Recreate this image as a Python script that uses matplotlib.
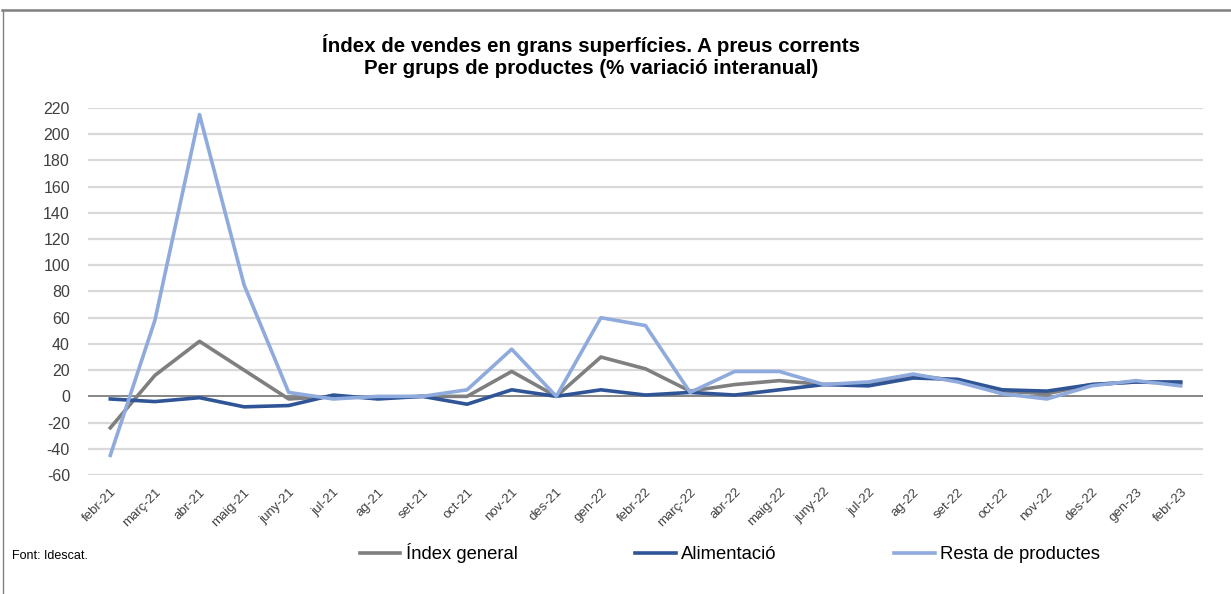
import matplotlib
matplotlib.use("Agg")
import matplotlib.pyplot as plt
from matplotlib.lines import Line2D

plt.rcParams['font.family'] = ['Liberation Sans', 'DejaVu Sans']

months = ["febr-21", "març-21", "abr-21", "maig-21", "juny-21", "jul-21", "ag-21",
          "set-21", "oct-21", "nov-21", "des-21", "gen-22", "febr-22", "març-22",
          "abr-22", "maig-22", "juny-22", "jul-22", "ag-22", "set-22", "oct-22",
          "nov-22", "des-22", "gen-23", "febr-23"]

index_general = [-24, 16, 42, 20, -2, 0, -1, 0, 0, 19, 0, 30, 21, 4,
                 9, 12, 9, 10, 16, 12, 4, 2, 9, 11, 10]
alimentacio = [-2, -4, -1, -8, -7, 1, -2, 0, -6, 5, 0, 5, 1, 3,
               1, 5, 9, 8, 14, 13, 5, 4, 9, 11, 11]
resta = [-45, 58, 215, 85, 3, -2, 0, 0, 5, 36, 0, 60, 54, 3,
         19, 19, 9, 11, 17, 11, 2, -2, 8, 12, 8]

yticks = list(range(-60, 221, 20))

fig = plt.figure(figsize=(12.31, 5.94), dpi=100)
ax = fig.add_axes([88 / 1231, 1 - 475 / 594, (1203 - 88) / 1231, (475 - 108) / 594])

x = list(range(len(months)))
l1, = ax.plot(x, index_general, color="#7f7f7f", lw=2.6, label="Índex general", zorder=3)
l2, = ax.plot(x, alimentacio, color="#2f5597", lw=2.6, label="Alimentació", zorder=4)
l3, = ax.plot(x, resta, color="#8faadc", lw=2.6, label="Resta de productes", zorder=5)

ax.set_xlim(-0.5, len(months) - 0.5)
ax.set_ylim(-60, 220)
ax.set_yticks(yticks)
ax.set_yticklabels([str(v) for v in yticks], fontsize=11.5, color="#404040")
ax.set_xticks(x)
ax.set_xticklabels(months, rotation=45, ha="right", rotation_mode="anchor",
                   fontsize=9.5, color="#404040")
ax.tick_params(axis="x", length=0, pad=8)
ax.tick_params(axis="y", length=0, pad=13)

for v in yticks:
    if v != 0:
        ax.axhline(v, color="#d9d9d9", lw=1.6, zorder=1)
ax.axhline(0, color="#868686", lw=1.4, zorder=2)

for s in ax.spines.values():
    s.set_visible(False)

fig.text(591 / 1231, 1 - 45 / 594, "Índex de vendes en grans superfícies. A preus corrents",
         ha="center", va="center", fontsize=14.8, fontweight="bold")
fig.text(591 / 1231, 1 - 68 / 594, "Per grups de productes (% variació interanual)",
         ha="center", va="center", fontsize=14.8, fontweight="bold")

fig.text(12 / 1231, 1 - 556 / 594, "Font: Idescat.", fontsize=9, va="center")

fig.legend(handles=[l1, l2, l3], loc="center left",
           bbox_to_anchor=(343 / 1231, 1 - 553 / 594), ncol=3, frameon=False,
           fontsize=13.3, handlelength=2.2, handletextpad=0.3, columnspacing=6.35)

# chart border
fig.add_artist(Line2D([0.002, 1], [1 - 10 / 594, 1 - 10 / 594], color="#808080", lw=1.8))
fig.add_artist(Line2D([3 / 1231, 3 / 1231], [0, 1 - 10 / 594], color="#808080", lw=1))

fig.savefig("out.png", dpi=100)
